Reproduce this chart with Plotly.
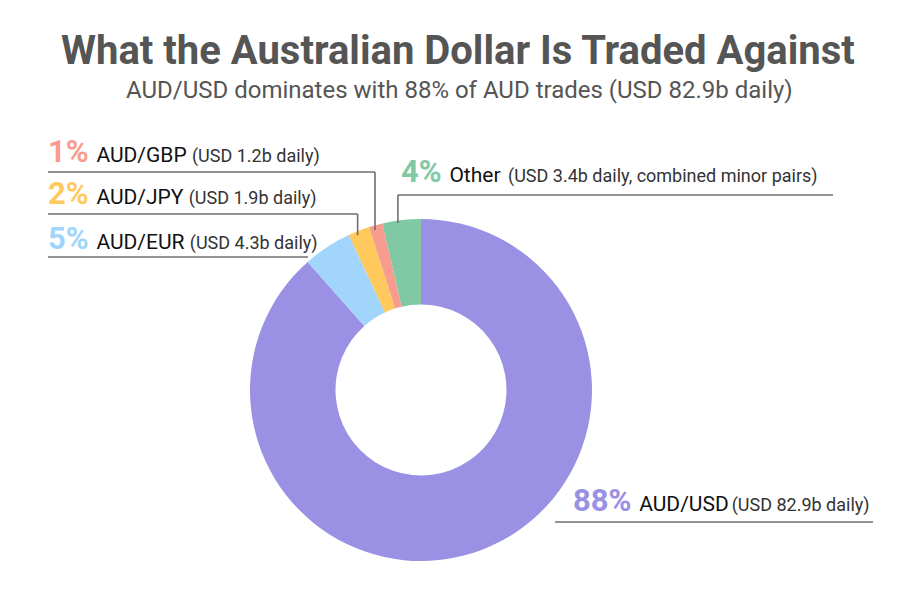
import math
import plotly.graph_objects as go

# ---- data ----
pairs = ["AUD/USD", "AUD/EUR", "AUD/JPY", "AUD/GBP", "Other"]
volumes_bn = [82.9, 4.3, 1.9, 1.2, 3.4]
notes = ["(USD 82.9b daily)", "(USD 4.3b daily)", "(USD 1.9b daily)",
         "(USD 1.2b daily)", "(USD 3.4b daily, combined minor pairs)"]
colors = ["#9A91E4", "#A2D5FB", "#FFC95E", "#F89D8E", "#80C9A4"]

title = "What the Australian Dollar Is Traded Against"
subtitle = "AUD/USD dominates with 88% of AUD trades (USD 82.9b daily)"

W, H = 900, 600
CX, CY, R = 421, 390, 171  # pie centre / radius in pixels


def px(x):
    return x / W


def py(y):
    return 1 - y / H


total = sum(volumes_bn)
pcts = [round(v / total * 100) for v in volumes_bn]

fig = go.Figure(go.Pie(
    labels=pairs, values=volumes_bn, sort=False, direction="clockwise",
    rotation=0, hole=0.5, textinfo="none", hoverinfo="label+value+percent",
    marker=dict(colors=colors, line=dict(width=0)),
    domain=dict(x=[px(CX - R), px(CX + R)], y=[py(CY + R), py(CY - R)]),
    showlegend=False,
))

# mid angles (clockwise from 12 o'clock)
mids = []
acc = 0
for v in volumes_bn:
    mids.append((acc + v / 2) / total * 2 * math.pi)
    acc += v


def edge(i, rr=R):
    a = mids[i]
    return CX + rr * math.sin(a), CY - rr * math.cos(a)


def label(i, gap):
    return (f"<b><span style='color:{colors[i]};font-size:31px'>{pcts[i]}% </span></b>"
            f"<span style='font-size:21px;color:#111'>{pairs[i]}</span>"
            f"<span style='font-size:{gap}px'> </span>"
            f"<span style='font-size:18px;color:#333'>{notes[i]}</span>")


line_style = dict(color="#6f6f6f", width=1.6)
shapes = []


def seg(x0, y0, x1, y1):
    shapes.append(dict(type="line", xref="paper", yref="paper",
                       x0=px(x0), y0=py(y0), x1=px(x1), y1=py(y1), line=line_style))


annotations = []


def ann(i, x, y, gap=21):
    annotations.append(dict(text=label(i, gap), x=px(x), y=py(y), xref="paper", yref="paper",
                            xanchor="left", yanchor="middle", showarrow=False,
                            font=dict(family="Roboto", size=18, color="#111")))


# AUD/GBP
gx, gy = edge(3, R - 5)
seg(48, 172, gx - 2, 172)
seg(gx - 2, 172, gx - 2, gy)
ann(3, 46, 151)
# AUD/JPY
jx, jy = edge(2, R - 5)
seg(48, 214, jx - 3, 214)
seg(jx - 3, 214, jx - 3, jy)
ann(2, 46, 194)
# AUD/EUR
seg(48, 257, 308, 257)
ann(1, 46, 238)
# Other
ox, oy = edge(4, R - 3)
seg(ox - 4, oy, ox - 4, 195)
seg(ox - 4, 195, 833, 195)
ann(4, 399, 172, gap=30)
# AUD/USD
seg(555, 522, 873, 522)
ann(0, 571, 500, gap=12)

annotations.append(dict(text=f"<b>{title}</b>", x=px(458), y=py(50), xref="paper", yref="paper",
                        xanchor="center", yanchor="middle", showarrow=False,
                        font=dict(family="Roboto", size=40, color="#555555")))
annotations.append(dict(text=subtitle, x=px(460), y=py(90), xref="paper", yref="paper",
                        xanchor="center", yanchor="middle", showarrow=False,
                        font=dict(family="Roboto", size=24, color="#555555")))

fig.update_layout(
    width=W, height=H, margin=dict(l=0, r=0, t=0, b=0),
    paper_bgcolor="white", plot_bgcolor="white",
    shapes=shapes, annotations=annotations,
    font=dict(family="Roboto"),
)

fig.write_html("out.html", config={"displayModeBar": False},
               post_script="document.body.style.margin='0';")
